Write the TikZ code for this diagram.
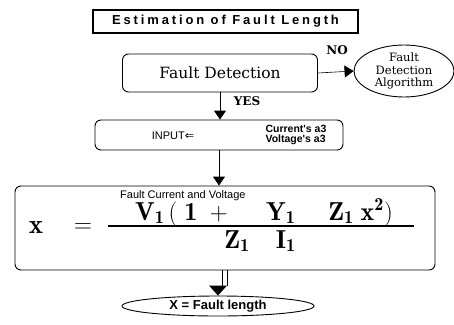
\documentclass[tikz,border=0pt]{standalone}
\usepackage{fontspec}
\usepackage{amsmath}
\usetikzlibrary{arrows.meta,shapes.geometric}
\newfontfamily\dvs{DejaVu Serif}
\newfontfamily\dvsans{DejaVu Sans}
\newfontfamily\lsans{Liberation Sans}
\newfontfamily\titlefont[LetterSpace=22]{Liberation Sans}
\begin{document}
\begin{tikzpicture}[x=1pt,y=-1pt,
  box/.style={draw,line width=0.9pt,rounded corners=6pt,inner sep=0pt},
  arr/.style={line width=0.9pt,-{Triangle[width=12pt,length=9pt]}},
  lbl/.style={font=\dvs\bfseries\fontsize{12}{13}\selectfont,inner sep=0pt},
  fml/.style={inner sep=0pt,font=\fontsize{26}{28}\selectfont}]
\useasboundingbox (0,0) rectangle (454,324);
% title
\node[draw,line width=1.2pt,minimum width=265pt,minimum height=23pt,inner sep=0pt,
  font=\titlefont\bfseries\fontsize{13}{15}\selectfont]
  (title) at (225.5,21.5) {Estimation of Fault Length};
% fault detection
\node[box,minimum width=195pt,minimum height=38pt,font=\dvs\fontsize{15.5}{17}\selectfont]
  (fd) at (220,73) {Fault Detection};
\node[draw,ellipse,line width=0.9pt,minimum width=100pt,minimum height=52pt,inner sep=0pt,
  align=center,font=\dvs\fontsize{11.5}{12.5}\selectfont]
  (algo) at (404,71) {Fault\\Detection\\Algorithm};
\draw[arr,line width=0.6pt] (fd.east) -- (algo.west);
\node[lbl] (no) at (337,50) {NO};
% input
\node[box,minimum width=248pt,minimum height=30pt] (inp) at (219,135) {};
\node[inner sep=0pt,font=\lsans\fontsize{11}{12}\selectfont] (inlab) at (173,136)
  {INPUT{\dvsans ⇐}};
\node[inner sep=0pt,align=left,font=\lsans\bfseries\fontsize{10.5}{10}\selectfont] (cv) at (296,135)
  {Current's a3\\Voltage's a3};
\draw[arr] (fd.south) -- (fd.south |- inp.north);
\node[lbl] (yes) at (247,101) {YES};
% main
\node[box,minimum width=420pt,minimum height=84pt] (main) at (225,228) {};
\node[inner sep=0pt,anchor=west,font=\lsans\fontsize{11}{12}\selectfont] (fcv) at (120,196)
  {Fault Current and Voltage};
\draw[arr] (inp.south) -- (inp.south |- main.north);
\node[fml,font=\fontsize{27}{28}\selectfont] (xx) at (36,228) {$\mathbf{x}$};
\node[fml] (eq) at (83,228) {$=$};
\node[fml,anchor=base] (num) at (264,220)
  {$\mathbf{V}_{\mathbf{1}}\,(\;\mathbf{1}\;+\quad\;\mathbf{Y}_{\mathbf{1}}\quad\;\mathbf{Z}_{\mathbf{1}}\;\mathbf{x}^{\mathbf{2}})$};
\node[fml,anchor=base] (den) at (260,248)
  {$\mathbf{Z}_{\mathbf{1}}\quad\mathbf{I}_{\mathbf{1}}$};
\coordinate (barL) at (108,226);
\coordinate (barR) at (414,226);
\draw[line width=1.1pt] (barL) -- (barR);
% result
\node[draw,ellipse,line width=0.9pt,minimum width=192pt,minimum height=20pt,inner sep=0pt,
  font=\lsans\bfseries\fontsize{13}{14}\selectfont]
  (res) at (218,306) {X = Fault length};
\coordinate (tipL) at ([xshift=-9pt,yshift=10pt]res.north);
\coordinate (tipR) at ([xshift=9pt,yshift=10pt]res.north);
\coordinate (d1) at ([xshift=-2.5pt]main.south);
\coordinate (d2) at ([xshift=2.5pt]main.south);
\draw[line width=0.9pt] (d1) -- (d1 |- tipL);
\draw[line width=0.9pt] (d2) -- (d2 |- tipL);
\fill (tipL) -- (tipR) -- (res.north) -- cycle;
\end{tikzpicture}
\end{document}
